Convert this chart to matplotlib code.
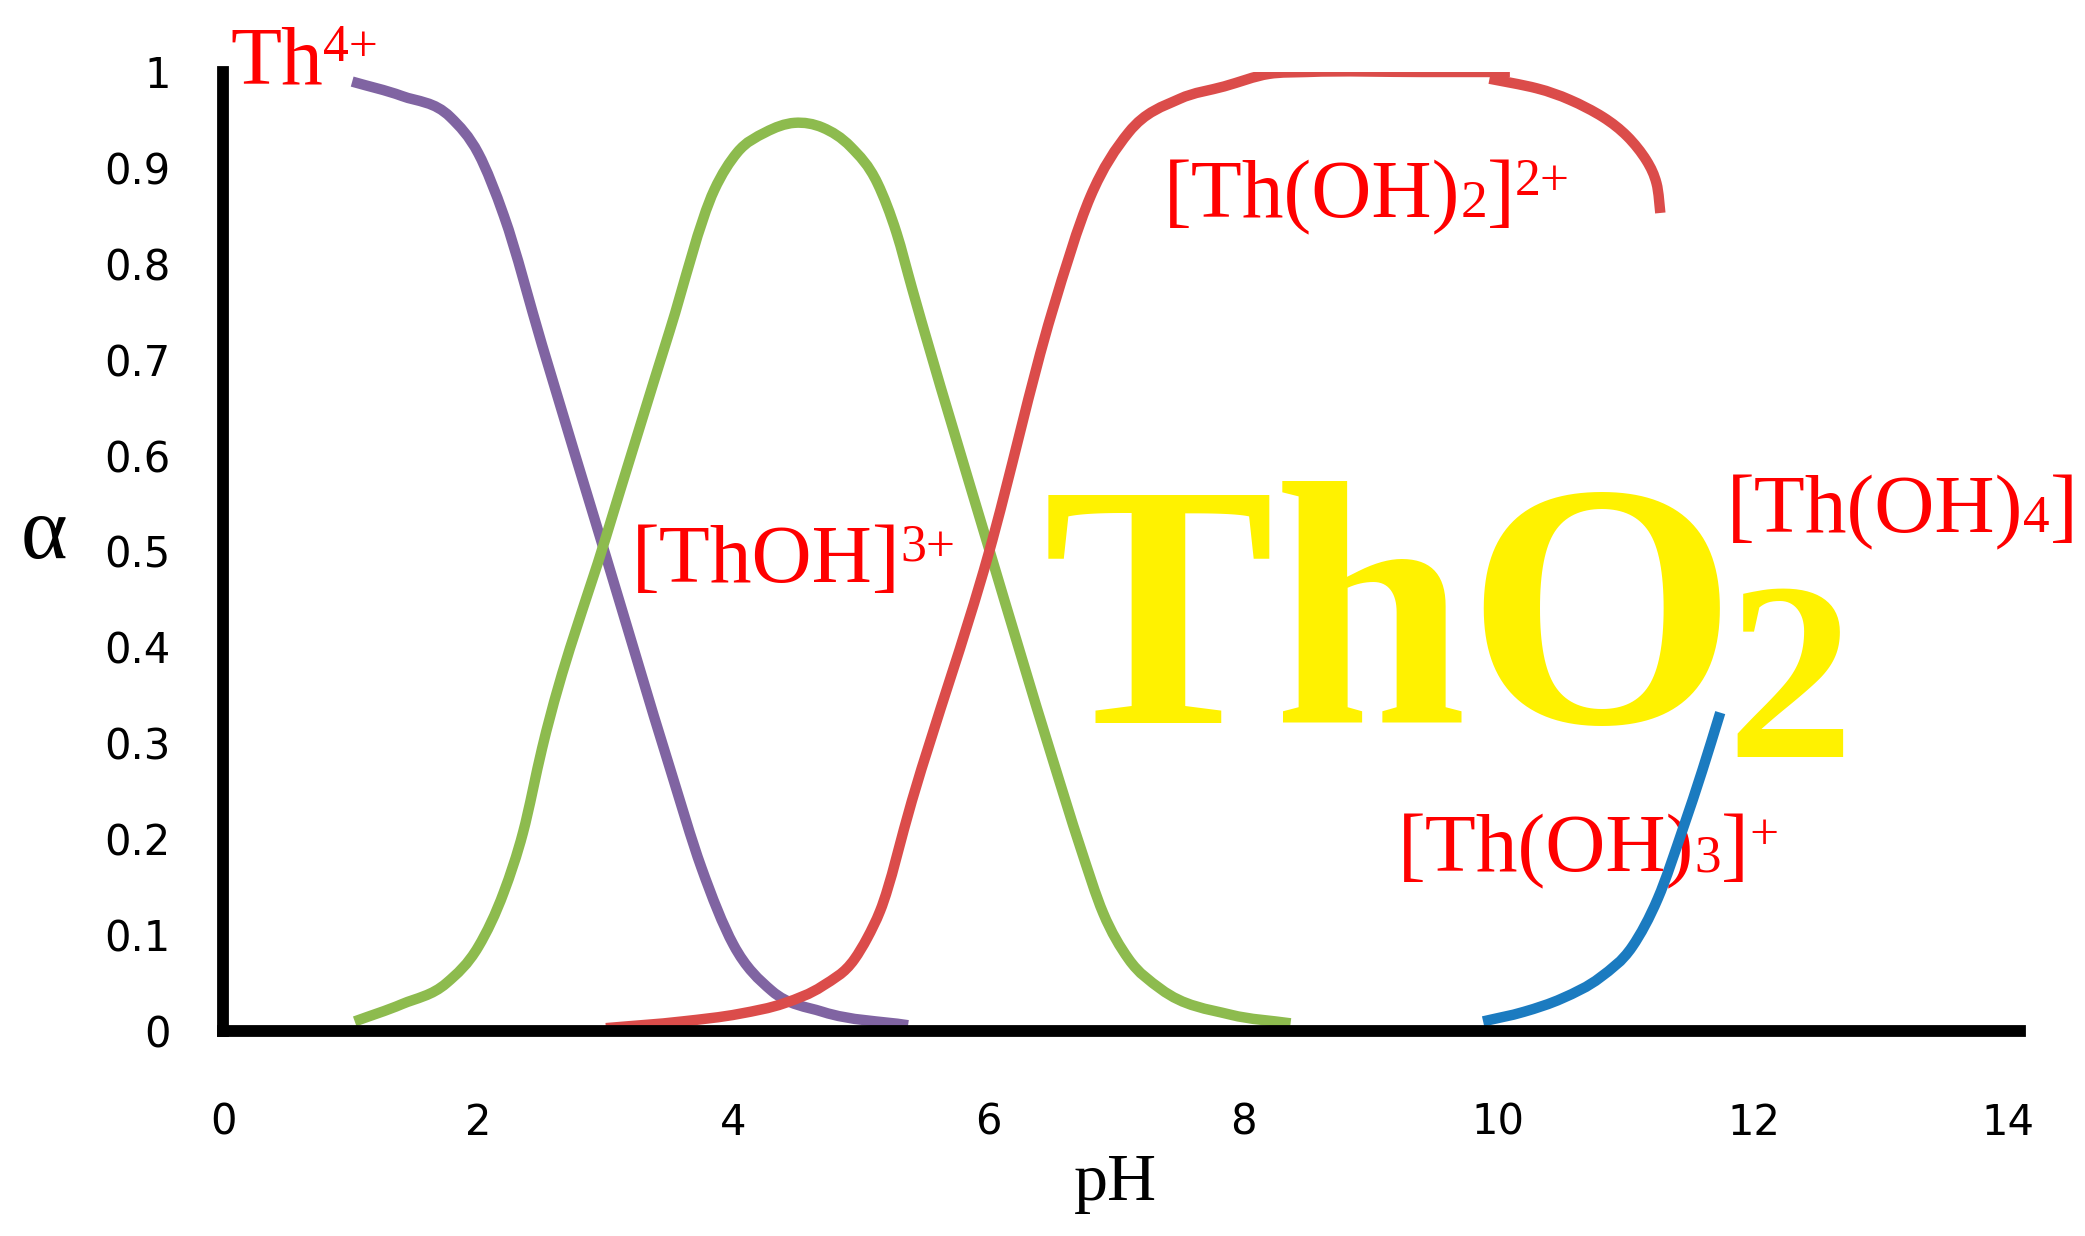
import matplotlib
matplotlib.use("Agg")
import matplotlib.pyplot as plt
from matplotlib.path import Path
from matplotlib.patches import PathPatch

# ---------------- data ----------------
ph_th4 = [1.01, 1.40, 1.78, 2.00, 2.20, 2.50, 3.00, 3.50, 3.75, 4.00, 4.30, 4.70, 5.37]
a_th4 = [0.990, 0.975, 0.953, 0.915, 0.850, 0.715, 0.495, 0.275, 0.170, 0.090, 0.042, 0.020, 0.006]

ph_thoh = [1.03, 1.40, 1.75, 2.00, 2.20, 2.35, 2.50, 3.00, 3.50, 3.85, 4.03, 4.25, 4.48,
           4.70, 4.92, 5.13, 5.28, 5.40, 6.00, 6.50, 6.72, 6.90, 7.10, 7.35, 7.90, 8.37]
a_thoh = [0.010, 0.028, 0.050, 0.088, 0.145, 0.207, 0.295, 0.515, 0.730, 0.877, 0.916, 0.937, 0.947,
          0.942, 0.922, 0.884, 0.832, 0.775, 0.505, 0.285, 0.192, 0.123, 0.075, 0.044, 0.017, 0.008]

ph_thoh2 = [3.00, 3.60, 4.05, 4.40, 4.70, 4.95, 5.05, 5.15, 5.40, 6.00, 6.50, 6.80, 7.10,
            7.50, 7.85, 8.20, 8.50, 9.40, 10.09]
a_thoh2 = [0.003, 0.010, 0.018, 0.029, 0.047, 0.075, 0.097, 0.125, 0.240, 0.497, 0.750, 0.870, 0.937,
           0.972, 0.985, 0.998, 1.000, 1.000, 1.000]
ph_thoh2_tail = [9.93, 10.30, 10.56, 10.82, 11.01, 11.16, 11.24, 11.27]
a_thoh2_tail = [0.993, 0.983, 0.971, 0.953, 0.933, 0.908, 0.884, 0.853]

ph_thoh3 = [9.88, 10.20, 10.50, 10.80, 11.05, 11.25, 11.45, 11.60, 11.74]
a_thoh3 = [0.010, 0.020, 0.034, 0.056, 0.088, 0.138, 0.212, 0.272, 0.332]

x_ticks = [0, 2, 4, 6, 8, 10, 12, 14]
y_ticks = [0, 0.1, 0.2, 0.3, 0.4, 0.5, 0.6, 0.7, 0.8, 0.9, 1.0]
y_ticklabels = ["0", "0.1", "0.2", "0.3", "0.4", "0.5", "0.6", "0.7", "0.8", "0.9", "1"]

# ---------------- figure ----------------
W, H = 2085, 1236
fig = plt.figure(figsize=(W / 100, H / 100), dpi=100)
fig.patch.set_facecolor("white")

x0_px, y0_px, y1_px = 223.4, 1031.0, 72.0
px_per_ph = 127.5
xmax = 14.09
ax = fig.add_axes([x0_px / W, 1 - y0_px / H, xmax * px_per_ph / W, (y0_px - y1_px) / H])
ax.patch.set_visible(False)
ax.set_xlim(0, xmax)
ax.set_ylim(0, 1)


def smooth_line(xs, ys, color, lw=7.5, parametric=False):
    """Draw a smoothed line (cubic Bezier segments) through the read points."""
    n = len(xs)
    verts = [(xs[0], ys[0])]
    codes = [Path.MOVETO]
    if parametric:
        pts = list(zip(xs, ys))
        for i in range(n - 1):
            p0 = pts[i - 1] if i > 0 else pts[i]
            p1, p2 = pts[i], pts[i + 1]
            p3 = pts[i + 2] if i + 2 < n else pts[i + 1]
            c1 = (p1[0] + (p2[0] - p0[0]) / 6.0, p1[1] + (p2[1] - p0[1]) / 6.0)
            c2 = (p2[0] - (p3[0] - p1[0]) / 6.0, p2[1] - (p3[1] - p1[1]) / 6.0)
            verts += [c1, c2, p2]
            codes += [Path.CURVE4] * 3
    else:
        h = [xs[i + 1] - xs[i] for i in range(n - 1)]
        d = [(ys[i + 1] - ys[i]) / h[i] for i in range(n - 1)]
        m = [d[0]]
        for i in range(1, n - 1):
            m.append((d[i - 1] * h[i] + d[i] * h[i - 1]) / (h[i - 1] + h[i]))
        m.append(d[-1])
        for i in range(n - 1):
            c1 = (xs[i] + h[i] / 3.0, ys[i] + m[i] * h[i] / 3.0)
            c2 = (xs[i + 1] - h[i] / 3.0, ys[i + 1] - m[i + 1] * h[i] / 3.0)
            verts += [c1, c2, (xs[i + 1], ys[i + 1])]
            codes += [Path.CURVE4] * 3
    patch = PathPatch(Path(verts, codes), fill=False, edgecolor=color, lw=lw,
                      capstyle="butt", joinstyle="round", zorder=3,
                      transform=ax.transData)
    ax.add_patch(patch)


smooth_line(ph_th4, a_th4, "#8064A2")
smooth_line(ph_thoh, a_thoh, "#8DBB4E")
smooth_line(ph_thoh2, a_thoh2, "#DB4C4A")
smooth_line(ph_thoh2_tail, a_thoh2_tail, "#DB4C4A", parametric=True)
smooth_line(ph_thoh3, a_thoh3, "#1B7BC0")

for s in ["top", "right"]:
    ax.spines[s].set_visible(False)
for s in ["left", "bottom"]:
    ax.spines[s].set_linewidth(8.5)
    ax.spines[s].set_color("black")
    ax.spines[s].set_capstyle("projecting")
    ax.spines[s].set_zorder(4)

ax.set_xticks(x_ticks)
ax.set_xticklabels([str(v) for v in x_ticks])
ax.set_yticks(y_ticks)
ax.set_yticklabels(y_ticklabels)
ax.tick_params(length=0, labelsize=30, labelcolor="black")
ax.tick_params(axis="x", pad=51)
ax.tick_params(axis="y", pad=38)
for lab in ax.get_xticklabels() + ax.get_yticklabels():
    lab.set_family("DejaVu Sans")

# axis titles
fig.text(1115 / W, 1 - 1200 / H, "pH", fontsize=49, family="Liberation Serif",
         ha="center", va="baseline", color="black")
fig.text(44 / W, 1 - 558 / H, "α", fontsize=64, family="Liberation Serif",
         ha="center", va="baseline", color="black")

# ---------------- chemical labels ----------------
renderer = fig.canvas.get_renderer()


def chem(x_px, base_px, parts, size, color="#FF0000", family="Liberation Serif",
         weight="normal", z=-1):
    em = size * 100 / 72
    x = x_px
    for s, sc, rise in parts:
        t = fig.text(x / W, (H - base_px + rise * em) / H, s, fontsize=size * sc,
                     color=color, family=family, weight=weight,
                     ha="left", va="baseline", zorder=z)
        x = t.get_window_extent(renderer).x1
    return x


SUP, SUB = 0.62, 0.64
RISE = 0.26
LS = 60
chem(230, 83, [("Th", 1, 0), ("4+", SUP, RISE)], LS)
chem(632, 582, [("[ThOH]", 1, 0), ("3+", SUP, RISE)], LS)
chem(1164, 217, [("[Th(OH)", 1, 0), ("2", SUB, 0), ("]", 1, 0), ("2+", SUP, RISE)], LS)
chem(1727, 532, [("[Th(OH)", 1, 0), ("4", SUB, 0), ("]", 1, 0)], LS)
chem(1398, 871, [("[Th(OH)", 1, 0), ("3", SUB, 0), ("]", 1, 0), ("+", SUP, RISE)], LS)

# big ThO2
fig.text(1043 / W, 1 - 723 / H, "ThO", fontsize=250, family="Liberation Serif",
         weight="bold", color="#FFF200", ha="left", va="baseline", zorder=-1)
fig.text(1726 / W, 1 - 757 / H, "2", fontsize=183, family="Liberation Serif",
         weight="bold", color="#FFF200", ha="left", va="baseline", zorder=-1)

fig.savefig("out.png", dpi=100, facecolor="white")
